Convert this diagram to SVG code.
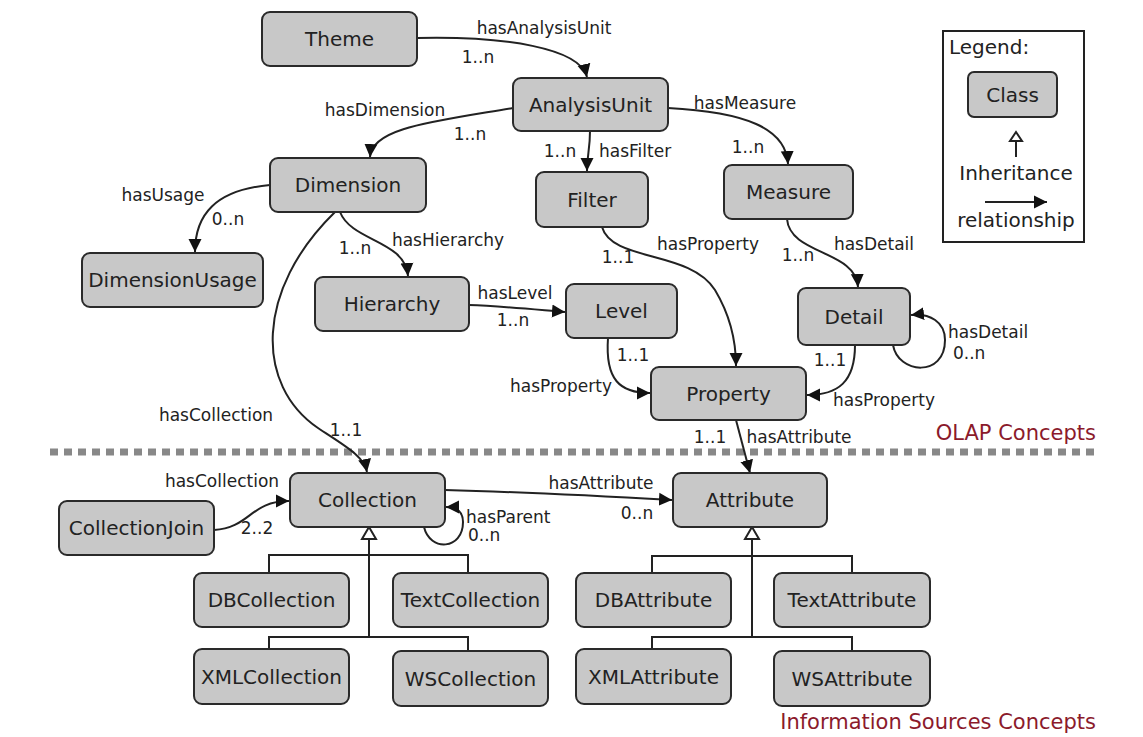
<svg xmlns="http://www.w3.org/2000/svg" width="1143" height="737" viewBox="0 0 1143 737">
<style>
.node rect{fill:#c8c8c8;stroke:#2a2a2a;stroke-width:2}
.node text,.lt{font-family:"DejaVu Sans",Verdana,sans-serif;font-size:20px;fill:#222;text-anchor:middle;dominant-baseline:central}
.el{font-family:"DejaVu Sans",Verdana,sans-serif;font-size:17px;fill:#222;dominant-baseline:central}
.m{text-anchor:middle}
.e{text-anchor:end}
.rel{fill:none;stroke:#222;stroke-width:2;marker-end:url(#arr)}
.inh{fill:none;stroke:#222;stroke-width:2}
.red{font-family:"DejaVu Sans",Verdana,sans-serif;font-size:21px;fill:#8b1a2b;text-anchor:end;dominant-baseline:central}
</style>
<defs>
<marker id="arr" viewBox="0 0 10 10" refX="10" refY="5" markerWidth="13" markerHeight="14" orient="auto" markerUnits="userSpaceOnUse">
<path d="M0,0 L10,5 L0,10 z" fill="#111"/>
</marker>
</defs>
<rect width="1143" height="737" fill="#fff"/>

<line x1="50" y1="452" x2="1098" y2="452" stroke="#888" stroke-width="7" stroke-dasharray="8 6"/>
<text class="red" x="1096" y="433">OLAP Concepts</text>
<text class="red" x="1096" y="722">Information Sources Concepts</text>

<g id="connectors">
<path class="rel" d="M417,38 C505,36 580,48 587,77"/>
<path class="rel" d="M513,108 C430,122 372,128 370,157"/>
<path class="rel" d="M590,131 C590,150 587,155 587,171"/>
<path class="rel" d="M668,108 C745,112 786,128 788,164"/>
<path class="rel" d="M270,185 C215,190 195,215 195,252"/>
<path class="rel" d="M340,212 C352,242 405,240 408,276"/>
<path class="rel" d="M335,212 C255,290 255,385 318,428 C345,446 364,456 367,472"/>
<path class="rel" d="M469,305 C500,306 540,310 565,312"/>
<path class="rel" d="M602,227 C612,262 690,250 715,290 C730,315 736,340 736,366"/>
<path class="rel" d="M787,219 C790,255 856,250 858,287"/>
<path class="rel" d="M608,338 C605,380 620,393 650,393"/>
<path class="rel" d="M855,345 C855,382 838,395 807,395"/>
<path class="rel" d="M893,345 C898,374 945,378 945,340 C945,322 930,313 911,315"/>
<path class="rel" d="M736,420 L750,473"/>
<path class="rel" d="M214,530 C250,528 250,501 289,501"/>
<path class="rel" d="M445,490 C520,492 600,496 672,500"/>
<path class="rel" d="M424,527 C430,552 463,550 463,522 C463,511 456,507 446,507"/>
<path class="inh" d="M369,527 L376,539 L362,539 Z M369,539 L369,637 M269,573 L269,555 L468,555 L468,573 M269,649 L269,637 L468,637 L468,651"/>
<path class="inh" d="M752,527 L759,539 L745,539 Z M752,539 L752,637 M652,573 L652,556 L852,556 L852,573 M652,649 L652,637 L852,637 L852,651"/>

<text class="el m" x="544" y="28">hasAnalysisUnit</text>
<text class="el m" x="478" y="57">1..n</text>
<text class="el m" x="385" y="110">hasDimension</text>
<text class="el m" x="470" y="134">1..n</text>
<text class="el m" x="560" y="151">1..n</text>
<text class="el" x="599" y="151">hasFilter</text>
<text class="el m" x="745" y="103">hasMeasure</text>
<text class="el m" x="748" y="147">1..n</text>
<text class="el m" x="163" y="195">hasUsage</text>
<text class="el m" x="228" y="219">0..n</text>
<text class="el m" x="355" y="248">1..n</text>
<text class="el m" x="448" y="240">hasHierarchy</text>
<text class="el m" x="618" y="257">1..1</text>
<text class="el m" x="708" y="244">hasProperty</text>
<text class="el m" x="798" y="255">1..n</text>
<text class="el m" x="874" y="244">hasDetail</text>
<text class="el m" x="515" y="293">hasLevel</text>
<text class="el m" x="513" y="320">1..n</text>
<text class="el" x="948" y="332">hasDetail</text>
<text class="el" x="953" y="353">0..n</text>
<text class="el m" x="633" y="355">1..1</text>
<text class="el m" x="561" y="386">hasProperty</text>
<text class="el m" x="830" y="360">1..1</text>
<text class="el m" x="884" y="400">hasProperty</text>
<text class="el m" x="216" y="415">hasCollection</text>
<text class="el m" x="346" y="430">1..1</text>
<text class="el m" x="710" y="437">1..1</text>
<text class="el m" x="799" y="437">hasAttribute</text>
<text class="el m" x="222" y="481">hasCollection</text>
<text class="el m" x="257" y="528">2..2</text>
<text class="el m" x="601" y="483">hasAttribute</text>
<text class="el m" x="637" y="513">0..n</text>
<text class="el" x="466" y="517">hasParent</text>
<text class="el" x="468" y="535">0..n</text>
</g>

<g id="Theme" class="node"><rect x="262" y="12" width="155" height="54" rx="8"/><text x="339.5" y="39">Theme</text></g>
<g id="AnalysisUnit" class="node"><rect x="513" y="78" width="155" height="53" rx="8"/><text x="590.5" y="104.5">AnalysisUnit</text></g>
<g id="Dimension" class="node"><rect x="270" y="158" width="156" height="54" rx="8"/><text x="348" y="185">Dimension</text></g>
<g id="Filter" class="node"><rect x="536" y="172" width="112" height="55" rx="8"/><text x="592" y="199.5">Filter</text></g>
<g id="Measure" class="node"><rect x="724" y="165" width="129" height="54" rx="8"/><text x="788.5" y="192">Measure</text></g>
<g id="DimensionUsage" class="node"><rect x="82" y="253" width="181" height="54" rx="8"/><text x="172.5" y="280">DimensionUsage</text></g>
<g id="Hierarchy" class="node"><rect x="315" y="277" width="154" height="54" rx="8"/><text x="392" y="304">Hierarchy</text></g>
<g id="Level" class="node"><rect x="566" y="284" width="111" height="54" rx="8"/><text x="621.5" y="311">Level</text></g>
<g id="Detail" class="node"><rect x="798" y="288" width="112" height="57" rx="8"/><text x="854" y="316.5">Detail</text></g>
<g id="Property" class="node"><rect x="651" y="367" width="155" height="53" rx="8"/><text x="728.5" y="393.5">Property</text></g>
<g id="Collection" class="node"><rect x="290" y="473" width="155" height="54" rx="8"/><text x="367.5" y="500">Collection</text></g>
<g id="CollectionJoin" class="node"><rect x="59" y="501" width="155" height="54" rx="8"/><text x="136.5" y="528">CollectionJoin</text></g>
<g id="Attribute" class="node"><rect x="673" y="473" width="154" height="54" rx="8"/><text x="750" y="500">Attribute</text></g>
<g id="DBCollection" class="node"><rect x="194" y="573" width="155" height="54" rx="8"/><text x="271.5" y="600">DBCollection</text></g>
<g id="TextCollection" class="node"><rect x="393" y="573" width="155" height="54" rx="8"/><text x="470.5" y="600">TextCollection</text></g>
<g id="XMLCollection" class="node"><rect x="194" y="649" width="155" height="55" rx="8"/><text x="271.5" y="676.5">XMLCollection</text></g>
<g id="WSCollection" class="node"><rect x="393" y="651" width="155" height="55" rx="8"/><text x="470.5" y="678.5">WSCollection</text></g>
<g id="DBAttribute" class="node"><rect x="576" y="573" width="155" height="54" rx="8"/><text x="653.5" y="600">DBAttribute</text></g>
<g id="TextAttribute" class="node"><rect x="774" y="573" width="156" height="54" rx="8"/><text x="852" y="600">TextAttribute</text></g>
<g id="XMLAttribute" class="node"><rect x="576" y="649" width="155" height="55" rx="8"/><text x="653.5" y="676.5">XMLAttribute</text></g>
<g id="WSAttribute" class="node"><rect x="774" y="651" width="156" height="55" rx="8"/><text x="852" y="678.5">WSAttribute</text></g>

<g id="Legend">
<rect x="943" y="31" width="141" height="211" fill="#fff" stroke="#222" stroke-width="2"/>
<text class="lt" x="949" y="47" style="text-anchor:start">Legend:</text>
<g class="node"><rect x="968" y="72" width="89" height="45" rx="6"/><text x="1012.5" y="94.5">Class</text></g>
<path class="inh" d="M1016,132 L1022,141 L1010,141 Z M1016,141 L1016,157"/>
<text class="lt" x="1016" y="173">Inheritance</text>
<path class="rel" d="M985,202 L1047,202"/>
<text class="lt" x="1016" y="220">relationship</text>
</g>
</svg>
